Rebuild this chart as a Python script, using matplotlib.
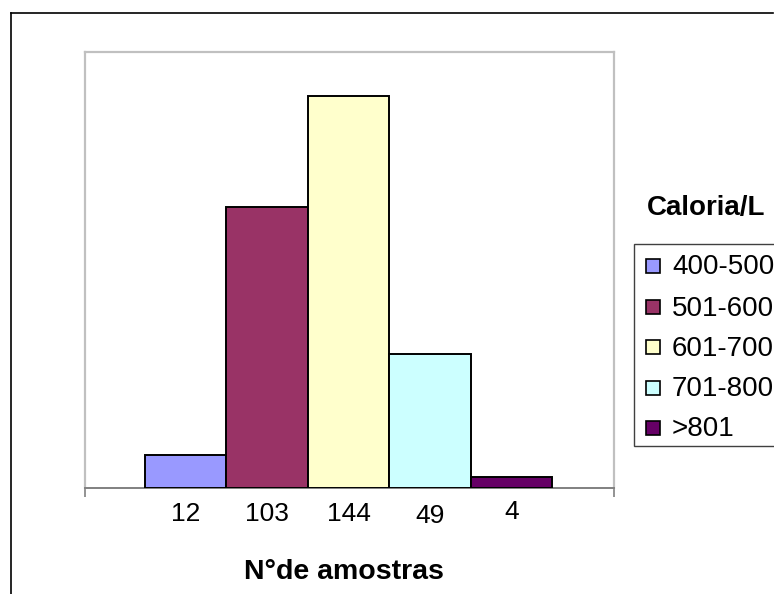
import matplotlib
matplotlib.use('Agg')
import matplotlib.pyplot as plt
from matplotlib.patches import Rectangle
from matplotlib.lines import Line2D

# ---- data ----
categories = ['400-500', '501-600', '601-700', '701-800', '>801']
counts = [12, 103, 144, 49, 4]
tick_labels = ['12', '103', '144', '49', '4']
colors = ['#9999FF', '#993366', '#FFFFCC', '#CCFFFF', '#660066']
legend_title = 'Caloria/L'
x_title = 'N\u00b0de amostras'

plt.rcParams['font.family'] = ['Liberation Sans', 'DejaVu Sans']

W, H = 774, 594
fig = plt.figure(figsize=(W / 100, H / 100), dpi=100)


def fx(p):
    return p / W


def fy(p):
    return 1 - p / H


# outer chart frame (top and left edges visible)
fig.add_artist(Line2D([fx(11), fx(773)], [fy(13), fy(13)], color='black', lw=1.2))
fig.add_artist(Line2D([fx(11), fx(11)], [fy(13), fy(594)], color='black', lw=1.2))

# plot area
ax = fig.add_axes([fx(85), fy(488), (614 - 85) / W, (488 - 52) / H])
xs = list(range(len(counts)))
ax.bar(xs, counts, width=1.0, color=colors, edgecolor='black', linewidth=1.4, zorder=3)
xl0, xl1 = -1.236, 5.255
ax.set_xlim(xl0, xl1)
ax.set_ylim(0, 160)
for s in ['left', 'top', 'right']:
    ax.spines[s].set_color('#c0c0c0')
    ax.spines[s].set_linewidth(1.6)
ax.spines['bottom'].set_color('#808080')
ax.spines['bottom'].set_linewidth(1.4)
ax.set_yticks([])
ax.set_xticks([xl0, xl1])
ax.set_xticklabels(['', ''])
ax.tick_params(axis='x', length=6.5, width=1.2, color='#808080', direction='out')

# category labels below bars
label_y = [-0.075, -0.075, -0.075, -0.080, -0.0715]
for x, lab, ly in zip(xs, tick_labels, label_y):
    ax.text(x, ly, lab, transform=ax.get_xaxis_transform(), ha='center',
            va='baseline', fontsize=19, color='black')

# axis title
fig.text(fx(344), fy(579), x_title, ha='center', va='baseline',
         fontsize=20.5, fontweight='bold')

# legend title
fig.text(fx(706), fy(215.5), legend_title, ha='center', va='baseline',
         fontsize=20, fontweight='bold')

# legend box (extends past the right edge)
fig.add_artist(Rectangle((fx(634), fy(446)), fx(820) - fx(634), (446 - 244) / H,
                         transform=fig.transFigure, facecolor='white',
                         edgecolor='#404040', lw=1.0))
entry_y = [266, 307, 347, 388, 428]
for cat, col, cy in zip(categories, colors, entry_y):
    fig.add_artist(Rectangle((fx(646), fy(cy + 7)), 14 / W, 14 / H,
                             transform=fig.transFigure, facecolor=col,
                             edgecolor='black', lw=1.2))
    fig.text(fx(672), fy(cy + 8.5), cat, ha='left', va='baseline', fontsize=20)

fig.savefig('out.png', dpi=100)
